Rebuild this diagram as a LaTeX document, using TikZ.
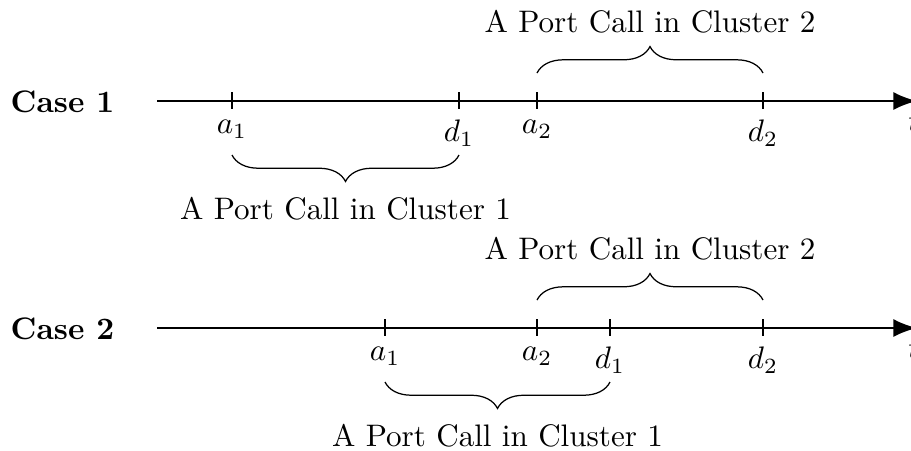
\documentclass[tikz,border=0pt]{standalone}
\usetikzlibrary{decorations.pathreplacing,arrows.meta}
\begin{document}
\begin{tikzpicture}[x=0.3215pt,y=0.3215pt,
  axisline/.style={line width=0.8pt,-{Latex[length=7.6pt,width=5.8pt]}},
  tickline/.style={line width=0.4pt},
  ticklabel/.style={anchor=north},
  casebox/.style={font=\bfseries,anchor=base},
  bracedec/.style={decorate,decoration={brace,amplitude=8.5pt}}]
\useasboundingbox (0,0) rectangle (911,450);

% ---------- Case 1 ----------
\node[casebox] (case1) at (62.5,338) {Case 1};
\coordinate (s1) at (157,349);
\coordinate (e1) at (917,349);
\draw[axisline] (s1) -- (e1);
\node[anchor=north] (t1) at (914,349) {$t$};

\foreach \x/\n/\l in {232/ia1/a_1,459/id1/d_1,537/ia2/a_2,763/id2/d_2}{
  \coordinate (\n top) at (\x,358);
  \coordinate (\n bot) at (\x,341);
  \draw[tickline] (\n top) -- (\n bot);
  \node[ticklabel] (\n lab) at (\n bot) {$\l$};
}
\coordinate (b1s) at (537,377);
\coordinate (b1e) at (763,377);
\draw[bracedec] (b1s) -- (b1e);
\node[anchor=south] (pc12) at (650,406) {A Port Call in Cluster 2};

\coordinate (b2s) at (459,295);
\coordinate (b2e) at (232,295);
\draw[bracedec] (b2s) -- (b2e);
\node[anchor=north] (pc11) at (345.5,264) {A Port Call in Cluster 1};

% ---------- Case 2 ----------
\node[casebox] (case2) at (62.5,111) {Case 2};
\coordinate (s2) at (157,122);
\coordinate (e2) at (917,122);
\draw[axisline] (s2) -- (e2);
\node[anchor=north] (t2) at (914,122) {$t$};

\foreach \x/\n/\l in {385/ja1/a_1,537/ja2/a_2,610/jd1/d_1,763/jd2/d_2}{
  \coordinate (\n top) at (\x,131);
  \coordinate (\n bot) at (\x,114);
  \draw[tickline] (\n top) -- (\n bot);
  \node[ticklabel] (\n lab) at (\n bot) {$\l$};
}
\coordinate (b3s) at (537,150);
\coordinate (b3e) at (763,150);
\draw[bracedec] (b3s) -- (b3e);
\node[anchor=south] (pc22) at (650,179) {A Port Call in Cluster 2};

\coordinate (b4s) at (610,68);
\coordinate (b4e) at (385,68);
\draw[bracedec] (b4s) -- (b4e);
\node[anchor=north] (pc21) at (497.5,37) {A Port Call in Cluster 1};
\end{tikzpicture}
\end{document}
